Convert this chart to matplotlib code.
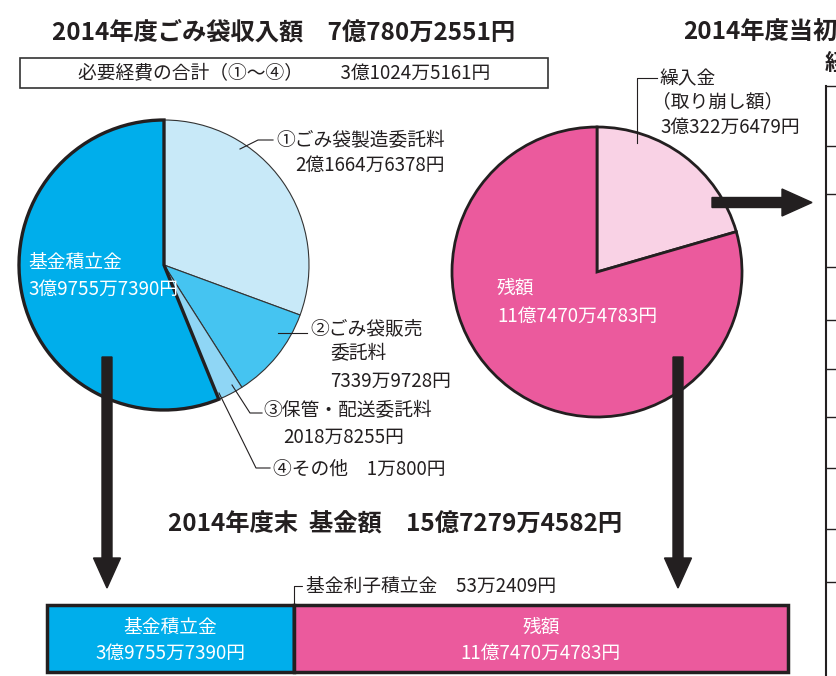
import numpy as np
import matplotlib
matplotlib.use('Agg')
import matplotlib.pyplot as plt

plt.rcParams['font.family'] = ['Noto Sans CJK JP', 'DejaVu Sans']

# 2014年度 ごみ袋収入 (円)
left_labels = ['①ごみ袋製造委託料', '②ごみ袋販売委託料', '③保管・配送委託料', '④その他', '基金積立金']
left_values = [216646378, 73399728, 20188255, 10800, 397557390]
left_colors = ['#c8e9f8', '#45c4f1', '#8fd6f5', '#8fd6f5', '#00aeeb']

right_labels = ['繰入金', '残額']
right_values = [303226479, 1174704783]
right_colors = ['#f9d2e5', '#eb5a9d']

# 年度末 基金額の内訳
bar_labels = ['基金積立金', '基金利子積立金', '残額']
bar_values = [397557390, 532409, 1174704783]
bar_colors = ['#00aeeb', '#ffffff', '#eb5a9d']

ink = '#231f20'

fig = plt.figure(figsize=(8.36, 6.76), dpi=100)
ax = fig.add_axes([0, 0, 1, 1])

# left pie (y axis is flipped, so counterclock in data = clockwise on screen)
wl, _ = ax.pie(left_values, colors=left_colors, center=(164, 265), radius=145,
               startangle=-90, counterclock=True)
for w in wl[:-1]:
    w.set_edgecolor('#333333')
    w.set_linewidth(0.8)
wl[-1].set_edgecolor(ink)
wl[-1].set_linewidth(2.4)
wl[-1].set_zorder(3)

wr, _ = ax.pie(right_values, colors=right_colors, center=(597, 272), radius=145,
               startangle=-90, counterclock=True)
for w in wr:
    w.set_edgecolor(ink)
    w.set_linewidth(2.0)

ax.set_xlim(0, 836)
ax.set_ylim(676, 0)
ax.set_aspect('auto')
ax.axis('off')

# titles
ax.text(284, 33, '2014年度ごみ袋収入額　7億780万2551円', fontsize=17.5, fontweight='bold',
        ha='center', va='center', color=ink)
ax.add_patch(plt.Rectangle((20, 58), 528, 30, fill=False, edgecolor='#333333', lw=1.2))
ax.text(284, 73, '必要経費の合計（①～④）　　3億1024万5161円', fontsize=13.5,
        ha='center', va='center', color=ink)
ax.text(683, 33, '2014年度当初', fontsize=17.5, fontweight='bold',
        ha='left', va='center', color=ink)
ax.text(825, 64, '経', fontsize=16, fontweight='bold', ha='left', va='center', color=ink)
ax.text(395, 525, '2014年度末  基金額　15億7279万4582円', fontsize=17.5, fontweight='bold',
        ha='center', va='center', color=ink)

# cut-off table on the right edge
ax.plot([826, 826], [86, 676], color=ink, lw=1.5)
for yy in [86, 146, 194, 267, 320, 369, 417, 468, 529, 582]:
    ax.plot([826, 836], [yy, yy], color=ink, lw=1.0)

# left pie labels
lab = dict(fontsize=13.5, color=ink, ha='left', va='center')
ax.plot([240, 258, 273], [149, 140, 140], color=ink, lw=0.8)
ax.text(276, 141, left_labels[0], **lab)
ax.text(295, 165, '2億1664万6378円', **lab)

ax.plot([278, 307], [333, 333], color=ink, lw=0.8)
ax.text(310, 329, '②ごみ袋販売', **lab)
ax.text(330, 354, '委託料', **lab)
ax.text(330, 381, '7339万9728円', **lab)

ax.plot([232, 250, 262], [385, 413, 413], color=ink, lw=0.8)
ax.text(263, 411, left_labels[2], **lab)
ax.text(283, 437, '2018万8255円', **lab)

ax.plot([219, 256, 270], [393, 468, 468], color=ink, lw=0.8)
ax.text(273, 469, '④その他　1万800円', **lab)

wlab = dict(fontsize=13.5, color='white', ha='left', va='center')
ax.text(28, 262, left_labels[4], **wlab)
ax.text(28, 289, '3億9755万7390円', **wlab)

# right pie labels
ax.plot([637, 637, 657], [143, 78, 78], color=ink, lw=0.8)
ax.text(660, 79, right_labels[0], **lab)
ax.text(652, 102, '（取り崩し額）', **lab)
ax.text(660, 127, '3億322万6479円', **lab)
ax.text(497, 288, right_labels[1], **wlab)
ax.text(497, 316, '11億7470万4783円', **wlab)

# arrows
arr = dict(width=10, head_width=27, head_length=30, length_includes_head=True,
           color=ink, zorder=5)
ax.arrow(107, 357, 0, 231, **arr)
ax.arrow(678, 357, 0, 231, **arr)
ax.arrow(712, 202.5, 100, 0, **arr)

# bottom bar (the original isn't drawn to scale, a power scale mimics it)
ax2 = fig.add_axes([47 / 836, 4 / 676, 741 / 836, 67 / 676])
p = 0.8
ax2.set_xscale('function', functions=(lambda v: np.abs(v) ** p, lambda u: np.abs(u) ** (1 / p)))
starts = np.concatenate([[0], np.cumsum(bar_values)[:-1]])
ends = np.cumsum(bar_values)
ax2.barh(0, bar_values, left=starts, height=1, color=bar_colors,
         edgecolor=ink, linewidth=2.5, clip_on=False)
ax2.set_xlim(0, ends[-1])
ax2.set_ylim(-0.5, 0.5)
ax2.axis('off')
mids = ((starts ** p + ends ** p) / 2) ** (1 / p)
ax2.text(mids[0], 0.17, bar_labels[0], fontsize=13.5, color='white', ha='center', va='center')
ax2.text(mids[0], -0.22, '3億9755万7390円', fontsize=13.5, color='white', ha='center', va='center')
ax2.text(mids[2], 0.17, bar_labels[2], fontsize=13.5, color='white', ha='center', va='center')
ax2.text(mids[2], -0.22, '11億7470万4783円', fontsize=13.5, color='white', ha='center', va='center')
ax2.annotate(bar_labels[1] + '　53万2409円', xy=(ends[1], 0.5), xytext=(12, 19),
             textcoords='offset pixels', fontsize=13.5, color=ink, ha='left', va='center',
             annotation_clip=False,
             arrowprops=dict(arrowstyle='-', color=ink, lw=0.8, shrinkA=1, shrinkB=0,
                             connectionstyle='angle,angleA=0,angleB=90,rad=0'))

fig.savefig('out.png', dpi=100)
